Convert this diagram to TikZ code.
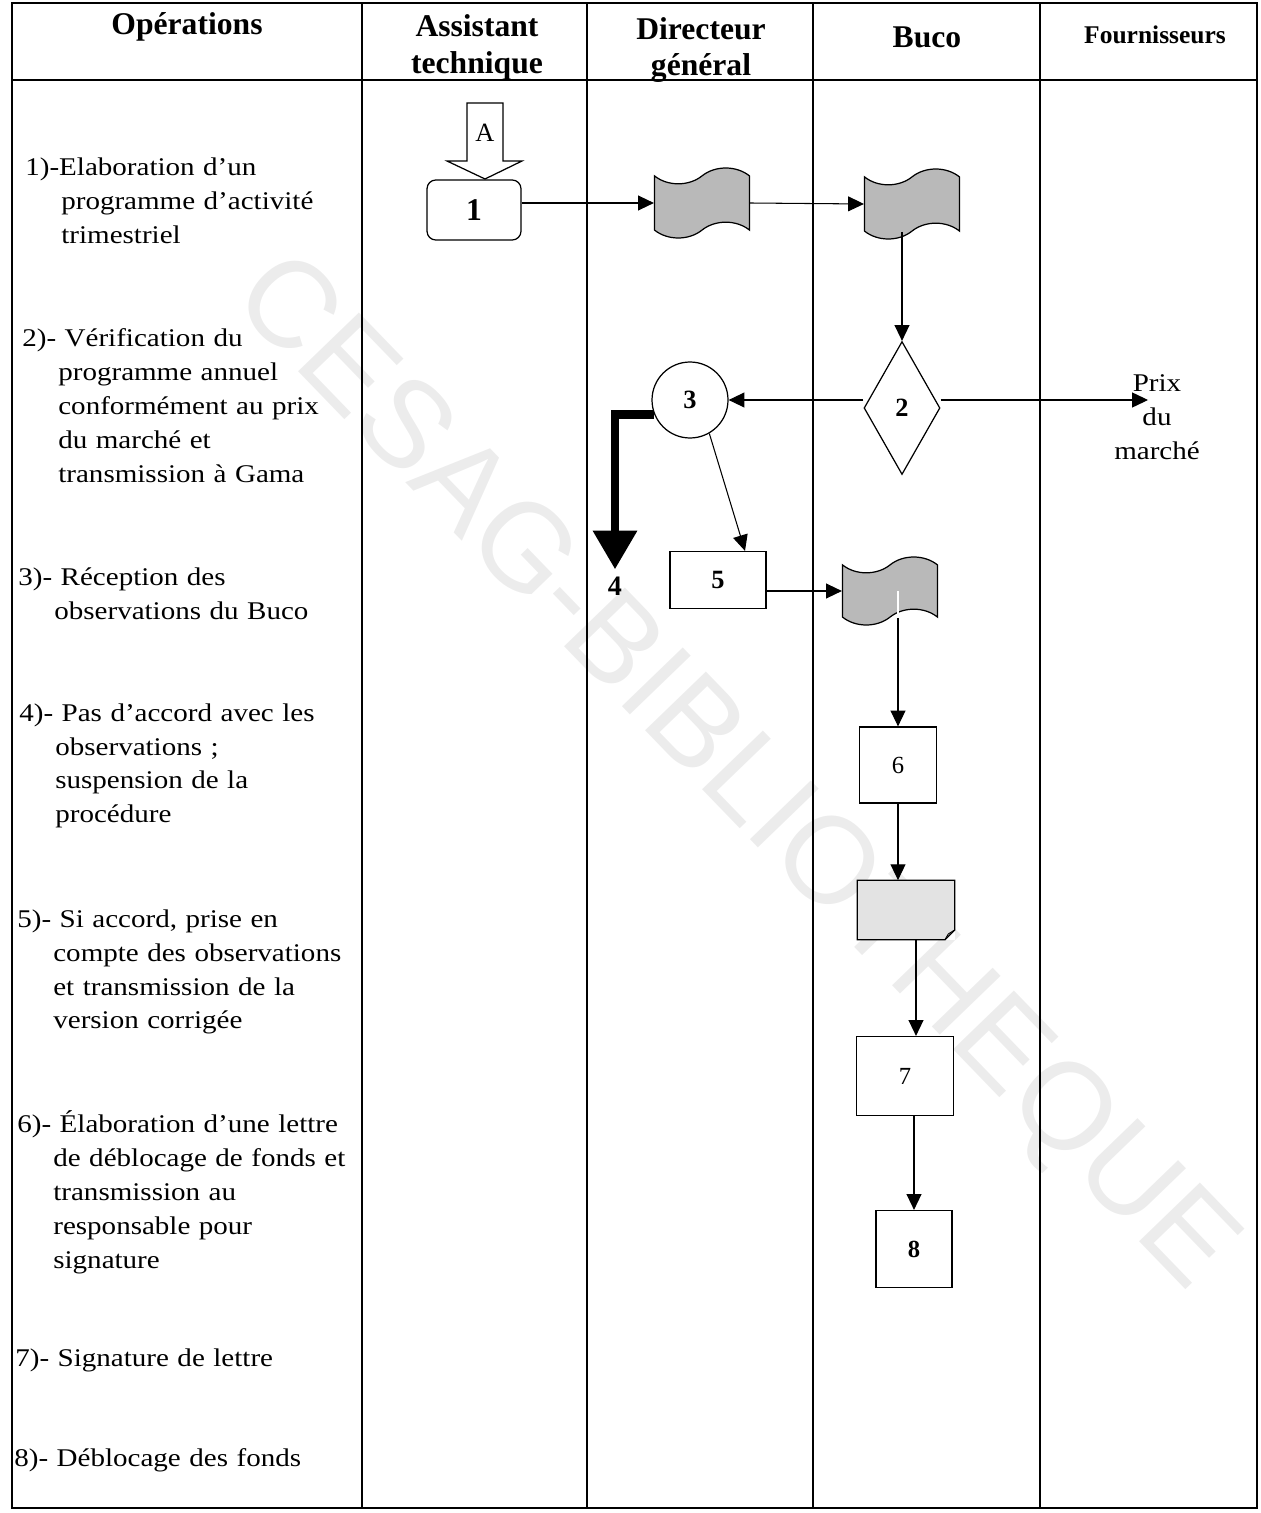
\documentclass[tikz,border=0pt]{standalone}
\usepackage{fontspec}
\setmainfont{Liberation Serif}
\newfontfamily\opfont[FakeStretch=1.14]{Liberation Serif}
\newfontfamily\wmfont{Liberation Sans}
\usetikzlibrary{shapes.geometric,shapes.symbols,arrows.meta,calc}

\newcommand\ind{\hspace*{0.72cm}}

\tikzset{
  flow/.style={-{Triangle[length=9pt,width=8.5pt]}, line width=0.6pt},
  box/.style={draw, line width=0.7pt, inner sep=0pt},
  doc/.style={draw, tape, fill=gray!55, line width=0.7pt, tape bend height=9pt, inner sep=0pt,
    minimum width=1.9cm, minimum height=1.4cm},
  oper/.style={anchor=base west, text width=7cm, align=left, inner sep=0pt,
    font=\opfont\fontsize{14.5}{19.35}\selectfont},
  head/.style={align=center, font=\bfseries\fontsize{18}{21}\selectfont},
  num/.style={font=\bfseries\fontsize{15}{15}\selectfont},
}

\begin{document}
\begin{tikzpicture}[x=0.02cm,y=-0.02cm]
\useasboundingbox (0,0) rectangle (1260,1513);
% filigrane
\node[rotate=-46, text=gray!15, font=\wmfont\fontsize{70}{70}\selectfont] (wm) at (732,775) {CESAG-BIBLIOTHEQUE};

% tableau
\draw[line width=0.6pt] (12,3) rectangle (1257,1508);
\draw[line width=0.6pt] (12,80) -- (1257,80);
\foreach \xc in {362,587,813,1040}
  \draw[line width=0.6pt] (\xc,3) -- (\xc,1508);

\node[head] (hop) at (187,27) {Opérations};
\node[head] (hat) at (477,47) {Assistant\\technique};
\node[head] (hdg) at (701,50) {Directeur\\général};
\node[head] (hbu) at (927,37) {Buco};
\node[head, font=\bfseries\fontsize{14.5}{17}\selectfont] (hfo) at (1155,35) {Fournisseurs};

% operations
\node[oper] (op1) at (25,176) {1)-Elaboration d’un\\\ind programme d’activité\\\ind trimestriel};
\node[oper] (op2) at (22,347) {2)- Vérification du\\\ind programme annuel\\\ind conformément au prix\\\ind du marché et\\\ind transmission à Gama};
\node[oper] (op3) at (18,585) {3)- Réception des\\\ind observations du Buco};
\node[oper] (op4) at (19,721) {4)- Pas d’accord avec les\\\ind observations ;\\\ind suspension de la\\\ind procédure};
\node[oper] (op5) at (17,927) {5)- Si accord, prise en\\\ind compte des observations\\\ind et transmission de la\\\ind version corrigée};
\node[oper] (op6) at (17,1132) {6)- Élaboration d’une lettre\\\ind de déblocage de fonds et\\\ind transmission au\\\ind responsable pour\\\ind signature};
\node[oper] (op7) at (15,1366) {7)- Signature de lettre};
\node[oper] (op8) at (14,1466) {8)- Déblocage des fonds};

% fleche d'entree A
\draw[line width=0.7pt, fill=white] (467,103) -- (503,103) -- (503,161) -- (522,161)
  -- (485,179) -- (447,161) -- (467,161) -- cycle;
\node[font=\fontsize{15}{15}\selectfont] (lblA) at (485,133) {A};

% noeuds
\node[box, rounded corners=5pt, minimum width=1.88cm, minimum height=1.2cm,
  font=\bfseries\fontsize{18}{18}\selectfont] (b1) at (474,210) {1};
\node[doc] (d1) at (702,203) {};
\node[doc] (d2) at (912,204) {};
\node[box, diamond, minimum width=1.52cm, minimum height=2.66cm, num] (dia) at (902,408) {2};
\node[box, circle, minimum size=1.52cm, num] (c3) at (690,400) {3};
\node[font=\bfseries\fontsize{16}{16}\selectfont, inner sep=1pt] (four) at (615,586) {4};
\node[box, minimum width=1.92cm, minimum height=1.14cm, num] (b5) at (718,580) {5};
\node[doc, minimum height=1.36cm] (d3) at (890,591) {};
\node[box, minimum width=1.54cm, minimum height=1.52cm, font=\fontsize{14}{14}\selectfont] (b6) at (898,765) {6};
\node[fill=gray!22, minimum width=1.94cm, minimum height=1.18cm, inner sep=0pt] (d4) at (906,910) {};
\fill[white] ([yshift=0.2cm]d4.south east) -- (d4.south east) -- ([xshift=-0.2cm]d4.south east) -- cycle;
\draw[line width=0.7pt] (d4.north west) -- (d4.north east) -- ([yshift=0.2cm]d4.south east)
  -- ([xshift=-0.2cm]d4.south east) -- (d4.south west) -- cycle;
\draw[line width=0.5pt] ([yshift=0.2cm]d4.south east) -- ([xshift=-0.13cm,yshift=0.12cm]d4.south east)
  -- ([xshift=-0.2cm]d4.south east);
\node[box, minimum width=1.94cm, minimum height=1.58cm, font=\fontsize{14}{14}\selectfont] (b7) at (905,1076) {7};
\node[box, minimum width=1.52cm, minimum height=1.54cm, font=\bfseries\fontsize{14}{14}\selectfont] (b8) at (914,1249) {8};
\coordinate (prixtip) at (1148,400);
\node[font=\opfont\fontsize{14.5}{19.35}\selectfont, align=center] (prix) at (1157,417) {Prix\\du\\marché};

% liaisons
\draw[flow] (b1.east |- d1.west) -- (d1.west);
\draw[flow] (d1.east) -- (d2.west);
\draw[flow] (dia.north |- d2.south) -- (dia.north);
\draw[flow] (c3.east -| dia.west) -- (c3.east);
\draw[flow] (prixtip -| dia.east) -- (prixtip);
\draw[line width=5pt, -{Triangle[length=22pt,width=24pt]}, shorten >=3pt] (c3.202) -| (four.north);
\draw[flow] (c3.-60) -- ([xshift=0.54cm]b5.north);
\draw[flow] (b5.east |- d3.west) -- (d3.west);
\draw[white, line width=1pt] (b6.north |- d3.center) -- (b6.north |- d3.south);
\draw[flow] (b6.north |- d3.south) -- (b6.north);
\draw[flow] (b6.south) -- (b6.south |- d4.north);
\draw[flow] ([xshift=0.2cm]d4.south) -- ([xshift=0.2cm]d4.south |- b7.north);
\draw[flow] (b8.north |- b7.south) -- (b8.north);
\end{tikzpicture}
\end{document}
